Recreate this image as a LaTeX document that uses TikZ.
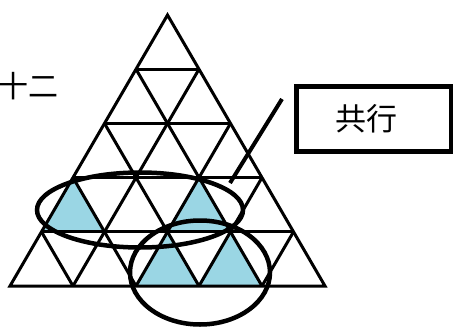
\documentclass[tikz,border=0pt]{standalone}
\usepackage{fontspec}
\newfontfamily\cjk{Noto Sans CJK TC}
\usepackage{tikz}
\usetikzlibrary{positioning,calc}
\definecolor{tricyan}{RGB}{154,214,228}
\definecolor{inkblack}{RGB}{0,0,0}
\tikzset{
  gridln/.style={inkblack, line width=3pt, line join=miter},
  shade/.style={fill=tricyan, draw=none},
  ring/.style={inkblack, line width=4.5pt},
  pointer/.style={inkblack, line width=4pt},
  lbox/.style={draw=inkblack, line width=5pt, fill=white, minimum width=155pt,
               minimum height=65pt, font=\cjk\fontsize{31}{34}\selectfont},
  figcap/.style={font=\cjk\fontsize{30}{33}\selectfont, anchor=east},
}
\newcommand{\tside}{63}
\newcommand{\rowh}{54.2}

\begin{document}
\begin{tikzpicture}[x=1pt, y=-1pt]
    \useasboundingbox (0,0) rectangle (453,327);
    % shaded triangles
    \foreach \ax/\ay in {73/177.6, 199/177.6, 167.5/231.8, 230.5/231.8}
      \fill[shade] (\ax,\ay) -- ++(-\tside/2,\rowh) -- ++(\tside,0) -- cycle;
    % triangle grid
    \draw[gridln] (167.5,15) -- (10,286) -- (325,286) -- cycle;
    \foreach \i in {1,...,4} {
      \draw[gridln] ({167.5-\i*\tside/2},{15+\i*\rowh}) -- ({167.5+\i*\tside/2},{15+\i*\rowh});
      \draw[gridln] ({167.5-\i*\tside/2},{15+\i*\rowh}) -- ({167.5+(5-2*\i)*\tside/2},286);
      \draw[gridln] ({167.5+\i*\tside/2},{15+\i*\rowh}) -- ({167.5-(5-2*\i)*\tside/2},286);
    }
    % rings
    \draw[ring] (140,210) ellipse (103 and 37.5);
    \draw[ring] (200,272.5) ellipse (70 and 52);
    % label box
    \node[lbox] (gx) at (373.5,119) {共行\kern14pt};
    \coordinate (tipA) at (282,99);
    \coordinate (tipB) at (230,183);
    \draw[pointer] (tipA) -- (tipB);
    \node[figcap] (fig) at (62,86) {十二};
  \end{tikzpicture}
\end{document}
